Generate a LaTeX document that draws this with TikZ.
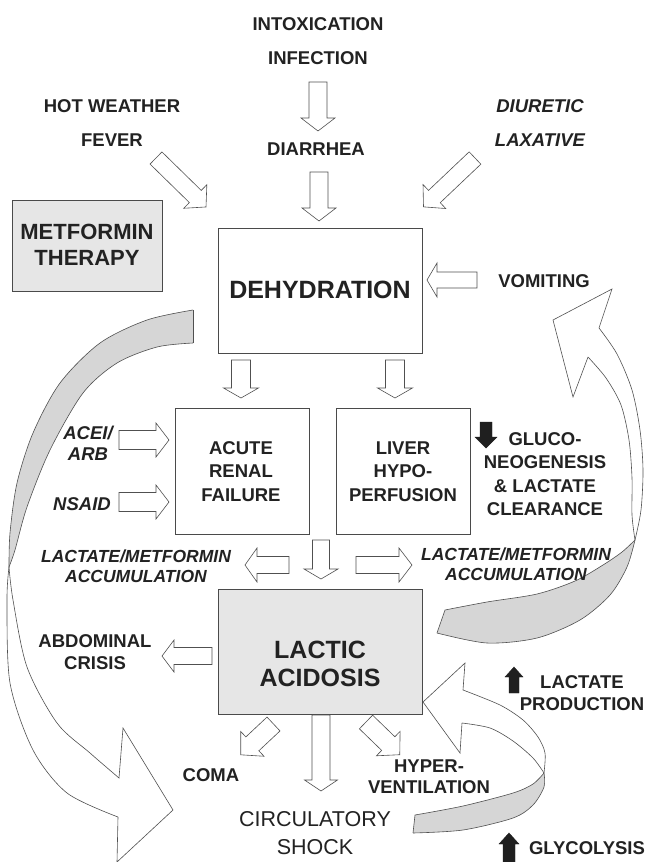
\documentclass[tikz,border=0pt]{standalone}
\usepackage{fontspec}
\setmainfont{Liberation Sans}
\definecolor{txt}{HTML}{222222}
\definecolor{boxline}{HTML}{4A4A4A}
\definecolor{arrline}{HTML}{505050}
\definecolor{boxfill}{HTML}{E6E6E6}
\definecolor{crescent}{HTML}{D6D6D6}
\tikzset{
  lbl/.style={text=txt, font=\bfseries\fontsize{18.5}{23.5}\selectfont, align=center, inner sep=0pt},
  ilbl/.style={lbl, font=\bfseries\itshape\fontsize{18.5}{21}\selectfont},
  accl/.style={lbl, font=\bfseries\itshape\fontsize{17.5}{20}\selectfont},
  bigl/.style={lbl, font=\bfseries\fontsize{25}{28}\selectfont},
  boxn/.style={draw=boxline, line width=0.8pt, inner sep=0pt},
  blockarr/.style={draw=arrline, line width=0.6pt, fill=white, line join=miter},
  solidarr/.style={fill=black!88, draw=black!88, line width=0.4pt, line join=miter},
  curve/.style={draw=arrline, line width=0.6pt, line join=miter},
}
% #1 style, #2 x, #3 y, #4 angle, #5 length, #6 shaft half width, #7 head half width, #8 head length
\newcommand\hollowarr[8][blockarr]{%
  \draw[#1,shift={(#2,#3)},rotate=#4] (0,-#6) -- ({#5-#8},-#6) -- ({#5-#8},-#7) -- (#5,0)
    -- ({#5-#8},#7) -- ({#5-#8},#6) -- (0,#6) -- cycle;}
\begin{document}
\begin{tikzpicture}[x=1pt,y=-1pt]
\useasboundingbox (0,0) rectangle (646,862);
\fill[white] (0,0) rectangle (646,862);

% ---------- left big curved arrow ----------
\fill[crescent] plot[smooth] coordinates {(193,310) (147,320) (100,343) (60,383) (33,433) (17,483) (10,533) (9,567)}
  -- plot[smooth] coordinates {(9,567) (15,550) (27,507) (50,450) (83,393) (117,363) (157,347) (193,343)} -- cycle;
\draw[curve] plot[smooth] coordinates {(193,310) (147,320) (100,343) (60,383) (33,433) (17,483) (10,533) (9,567)};
\draw[curve] plot[smooth] coordinates {(193,343) (157,347) (117,363) (83,393) (50,450) (27,507) (15,550) (9,567)};
\draw[curve] (193,310) -- (193,343);
\draw[curve] plot[smooth] coordinates {(9,567) (13,600) (27,667) (57,723) (90,753) (119,778)}
  -- (123,728) -- (173,810) -- (117,862) -- (118,817);
\draw[curve] plot[smooth] coordinates {(9,567) (7,600) (10,683) (33,750) (67,793) (118,817)};

% ---------- right big curved arrow ----------
\fill[crescent] plot[smooth] coordinates {(445,610) (487,602) (537,594) (575,581) (603,565) (622,552) (635,540)}
  -- plot[smooth] coordinates {(635,540) (627,567) (610,595) (580,620) (537,638) (487,643) (437,633)} -- cycle;
\draw[curve] plot[smooth] coordinates {(445,610) (487,602) (537,594) (575,581) (603,565) (622,552) (635,540)};
\draw[curve] plot[smooth] coordinates {(437,633) (487,643) (537,638) (580,620) (610,595) (627,567) (635,540)};
\draw[curve] (445,610) -- (437,633);
\draw[curve] plot[smooth] coordinates {(635,540) (641,510) (643,470) (640,430) (632,390) (617,354) (599,328)}
  -- (612,289) -- (553,320) -- (573,397) -- (588,357);
\draw[curve] plot[smooth] coordinates {(635,540) (632,515) (632,478) (629,440) (621,405) (606,378) (588,357)};

% ---------- bottom right curved arrow ----------
\fill[crescent] plot[smooth] coordinates {(415,815) (463,806) (513,793) (533,784) (544,773)}
  -- plot[smooth] coordinates {(544,773) (544,787) (533,805) (513,818) (463,830) (413,833)} -- cycle;
\draw[curve] plot[smooth] coordinates {(415,815) (463,806) (513,793) (533,784) (544,773)};
\draw[curve] plot[smooth] coordinates {(413,833) (463,830) (513,818) (533,805) (544,787) (544,773)};
\draw[curve] (415,815) -- (413,833);
\draw[curve] plot[smooth] coordinates {(544,773) (545,753) (538,737) (523,720) (500,705) (463,690)}
  -- (465,663) -- (423,702) -- (460,753) -- (462,723);
\draw[curve] plot[smooth] coordinates {(544,773) (533,758) (513,741) (490,728) (462,723)};

% ---------- boxes ----------
\node[boxn, fill=boxfill, minimum width=150pt, minimum height=91pt] (metf) at (87,245.5) {};
\node[boxn, minimum width=204pt, minimum height=125pt] (dehyd) at (320,290.5) {};
\node[boxn, minimum width=134pt, minimum height=126pt] (acute) at (242,471) {};
\node[boxn, minimum width=134pt, minimum height=126pt] (liver) at (403,471) {};
\node[boxn, fill=boxfill, minimum width=204pt, minimum height=125pt] (lactic) at (320,651.5) {};

% ---------- hollow block arrows ----------
\hollowarr{318}{82}{-90}{49}{9}{17}{13}
\hollowarr{319}{172}{-90}{49}{9}{17}{13}
\hollowarr{156}{158}{-44.4}{70}{8.5}{16.5}{15}
\hollowarr{475}{158}{-136.5}{71}{8.5}{16.5}{15}
\hollowarr{477}{280}{180}{50}{8}{17}{10}
\hollowarr{241}{360}{-90}{38}{9.5}{17.5}{10}
\hollowarr{395}{360}{-90}{38}{9.5}{17.5}{10}
\hollowarr{119}{440}{0}{50}{9.5}{17}{13}
\hollowarr{119}{502}{0}{50}{9.5}{17}{13}
\hollowarr{289}{565}{180}{44}{8.5}{17}{12}
\hollowarr{321}{540}{-90}{39}{8.5}{17}{10}
\hollowarr{356}{565}{0}{56}{8.5}{17}{13}
\hollowarr{212}{656}{180}{50}{8.5}{16}{12}
\hollowarr{273.5}{724}{-136.8}{45}{9.5}{17}{16}
\hollowarr{366}{722}{-44.1}{47}{9.5}{17}{16}
\hollowarr{321}{715}{-90}{76}{9}{16.5}{11}

% ---------- solid black arrows ----------
\hollowarr[solidarr]{486}{422}{-90}{26}{6}{11}{11}
\hollowarr[solidarr]{514}{693}{90}{26}{5}{9}{10}
\hollowarr[solidarr]{509}{862}{90}{29}{6}{10}{11}

% ---------- texts ----------
\node[lbl] (intox) at (318,24) {INTOXICATION};
\node[lbl] (infect) at (318,58) {INFECTION};
\node[lbl] (hot) at (112,106) {HOT WEATHER};
\node[lbl] (fever) at (112,140) {FEVER};
\node[ilbl] (diur) at (540,106) {DIURETIC};
\node[ilbl] (laxa) at (540,140) {LAXATIVE};
\node[lbl] (diar) at (316,149) {DIARRHEA};
\node[lbl, font=\bfseries\fontsize{22}{26}\selectfont] (metft) at (87,245) {METFORMIN\\THERAPY};
\node[bigl] (dehydt) at (320,290) {DEHYDRATION};
\node[lbl] (vomit) at (544,281) {VOMITING};
\node[lbl] (acutet) at (241,471.5) {ACUTE\\RENAL\\FAILURE};
\node[lbl] (livert) at (403,471.5) {LIVER\\HYPO-\\PERFUSION};
\node[ilbl] (acei) at (88,443.5) {ACEI/\\ARB};
\node[ilbl] (nsaid) at (82,504) {NSAID};
\node[lbl, font=\bfseries\fontsize{18.5}{23.3}\selectfont] (gluco) at (545,474) {GLUCO-\\NEOGENESIS\\\& LACTATE\\CLEARANCE};
\node[accl] (lacl) at (136,566) {LACTATE/METFORMIN\\ACCUMULATION};
\node[accl] (lacr) at (516,564) {LACTATE/METFORMIN\\ACCUMULATION};
\node[bigl] (lactict) at (320,664) {LACTIC\\ACIDOSIS};
\node[lbl, font=\bfseries\fontsize{18.5}{22}\selectfont] (abdo) at (95,652) {ABDOMINAL\\CRISIS};
\node[lbl] (coma) at (211,775) {COMA};
\node[lbl, font=\bfseries\fontsize{18.5}{21}\selectfont] (hyper) at (429,776.5) {HYPER-\\VENTILATION};
\node[lbl, font=\fontsize{21.5}{28}\selectfont] (circ) at (315,833) {CIRCULATORY\\SHOCK};
\node[lbl, font=\bfseries\fontsize{18.5}{22}\selectfont] (lactp) at (582,693) {LACTATE\\PRODUCTION};
\node[lbl] (glyc) at (587,848) {GLYCOLYSIS};
\end{tikzpicture}
\end{document}
